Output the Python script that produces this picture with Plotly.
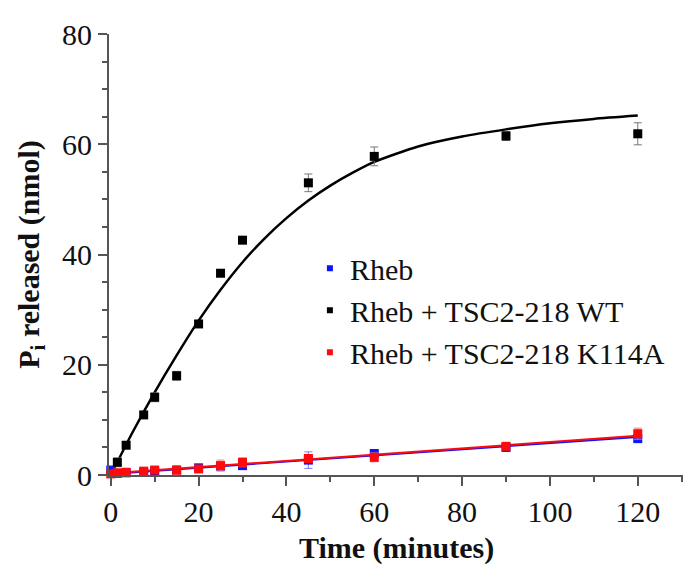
import plotly.graph_objects as go

# ---- data ----
wt_x = [1.5, 3.5, 7.5, 10, 15, 20, 25, 30, 45, 60, 90, 120]
wt_y = [2.3, 5.4, 10.9, 14.1, 18.0, 27.4, 36.6, 42.6, 53.0, 57.8, 61.5, 61.9]
wt_err = [0.8, 0.5, 0.5, 0.8, 0.8, 0.5, 0.5, 0.6, 1.6, 1.7, 0.8, 2.0]

k114a_x = [0, 1.5, 3.5, 7.5, 10, 15, 20, 25, 30, 45, 60, 90, 120]
k114a_y = [0.2, 0.4, 0.5, 0.7, 0.9, 0.9, 1.1, 1.7, 2.3, 3.0, 3.2, 5.2, 7.5]
k114a_err = [0.2, 0.3, 0.3, 0.3, 0.4, 0.8, 0.5, 1.0, 0.8, 0.6, 0.8, 0.4, 1.0]

rheb_x = [0, 1.5, 3.5, 7.5, 10, 15, 20, 25, 30, 45, 60, 90, 120]
rheb_y = [0.9, 0.3, 0.4, 0.5, 0.7, 0.8, 1.3, 1.6, 1.7, 2.7, 3.9, 5.0, 6.6]
rheb_err = [0.6, 0.3, 0.3, 0.3, 0.3, 0.4, 0.4, 0.6, 0.6, 1.5, 0.5, 0.4, 0.5]

# fitted curves
wt_fit_x = [0, 5, 10, 15, 20, 25, 30, 35, 40, 45, 50, 55, 60, 70, 80, 90, 100, 110, 120]
wt_fit_y = [0, 7.8, 15.0, 21.7, 28.0, 33.6, 38.6, 42.9, 46.6, 49.8, 52.5, 54.8, 56.8,
            59.6, 61.4, 62.7, 63.8, 64.6, 65.2]
rheb_fit_x = [0, 120]
rheb_fit_y = [0.2, 6.9]
k114a_fit_x = [0, 120]
k114a_fit_y = [0.3, 7.1]

names = ["Rheb", "Rheb + TSC2-218 WT", "Rheb + TSC2-218 K114A"]
colors = ["#0a14ff", "#000000", "#ff0a0a"]
x_title = "<b>Time (minutes)</b>"
y_title = "<b>P<sub>i</sub> released (nmol)</b>"

FONT = "'Liberation Serif', 'Times New Roman', Times, 'DejaVu Serif', serif"

fig = go.Figure()

# fit lines
fig.add_trace(go.Scatter(x=rheb_fit_x, y=rheb_fit_y, mode="lines",
                         line=dict(color=colors[0], width=2), showlegend=False,
                         hoverinfo="skip"))
fig.add_trace(go.Scatter(x=k114a_fit_x, y=k114a_fit_y, mode="lines",
                         line=dict(color=colors[2], width=2), showlegend=False,
                         hoverinfo="skip"))
fig.add_trace(go.Scatter(x=wt_fit_x, y=wt_fit_y, mode="lines",
                         line=dict(color=colors[1], width=2.5, shape="spline", smoothing=0.6),
                         showlegend=False, hoverinfo="skip"))

# data points
def pts(x, y, e, c, ec):
    return go.Scatter(x=x, y=y, mode="markers",
                      marker=dict(symbol="square", size=9, color=c),
                      error_y=dict(type="data", array=e, color=ec, thickness=1, width=4),
                      showlegend=False, cliponaxis=False)

fig.add_trace(pts(rheb_x, rheb_y, rheb_err, colors[0], "#7a7aff"))
fig.add_trace(pts(k114a_x, k114a_y, k114a_err, colors[2], "#ff7a7a"))
fig.add_trace(pts(wt_x, wt_y, wt_err, colors[1], "#777777"))

# legend entries
for n, c in zip(names, colors):
    fig.add_trace(go.Scatter(x=[None], y=[None], mode="markers", name=n,
                             marker=dict(symbol="square", size=6, color=c)))

axis_common = dict(
    showline=True, linecolor="#555555", linewidth=2,
    ticks="outside", ticklen=9, tickwidth=2, tickcolor="#555555",
    showgrid=False, zeroline=False, automargin=False,
    tickfont=dict(family=FONT, size=30, color="#111"),
)

fig.update_xaxes(range=[-0.4, 130.3], tickvals=[0, 20, 40, 60, 80, 100, 120],
                 minor=dict(dtick=10, ticks="outside", ticklen=5, tickwidth=2,
                            tickcolor="#555555"),
                 **axis_common)
fig.update_yaxes(range=[0, 80], tickvals=[0, 20, 40, 60, 80],
                 minor=dict(dtick=5, ticks="outside", ticklen=5, tickwidth=2,
                            tickcolor="#555555"),
                 title=dict(text=y_title,
                            font=dict(family=FONT, size=30, color="#111"), standoff=14),
                 **axis_common)

fig.add_annotation(text=x_title, xref="paper", yref="paper", x=0.5, y=-0.165,
                   xanchor="center", yanchor="middle", showarrow=False,
                   font=dict(family=FONT, size=30, color="#111"))

fig.update_layout(
    width=688, height=567,
    margin=dict(l=109, r=5, t=34, b=92),
    paper_bgcolor="white", plot_bgcolor="white",
    font=dict(family=FONT, size=30, color="#111"),
    legend=dict(x=0.35, y=0.528, xanchor="left", yanchor="top",
                bgcolor="rgba(0,0,0,0)", font=dict(family=FONT, size=30, color="#111"),
                tracegroupgap=0),
)

fig.write_html("out.html", config={"displayModeBar": False},
               post_script="document.body.style.margin='0';document.body.style.overflow='hidden';")
